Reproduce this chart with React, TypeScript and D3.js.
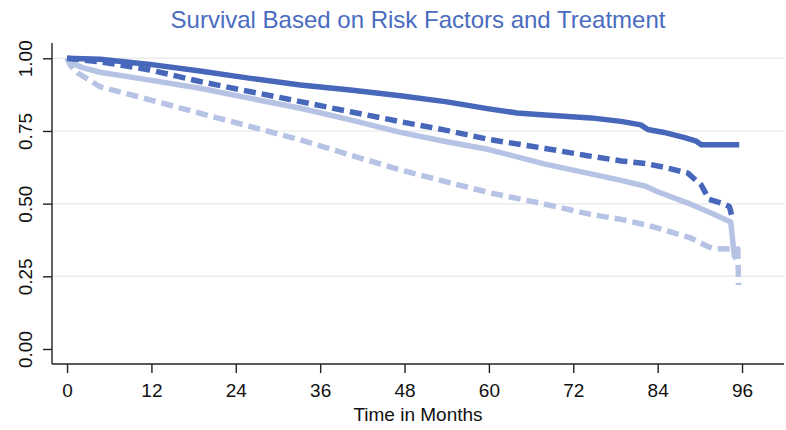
import React, { useRef, useEffect } from "react";
import * as d3 from "d3";

// Kaplan-Meier style survival curves, [month, survival]
const darkSolid: [number, number][] = [
  [0, 1.0], [4.7, 0.997], [11.8, 0.979], [18.9, 0.956], [26.1, 0.931], [33.2, 0.908],
  [40.3, 0.891], [47.4, 0.871], [53.8, 0.851], [60, 0.826], [64, 0.812], [68, 0.805],
  [74.5, 0.795], [78.8, 0.783], [81.6, 0.771], [82.6, 0.755], [84.9, 0.745], [87.7, 0.728],
  [89.5, 0.715], [90.2, 0.703], [95.6, 0.703],
];

const darkDashed: [number, number][] = [
  [0, 1.0], [4.7, 0.988], [11.8, 0.96], [18.9, 0.92], [26.1, 0.885], [33.2, 0.851],
  [40.3, 0.816], [47.4, 0.782], [53.8, 0.753], [60.2, 0.72], [68, 0.69], [74, 0.665],
  [78.8, 0.647], [82.3, 0.638], [85, 0.625], [88.3, 0.605], [90.2, 0.564], [91.3, 0.515],
  [93.5, 0.498], [94.2, 0.49], [94.7, 0.444],
];

const lightSolid: [number, number][] = [
  [0, 1.0], [0.5, 0.985], [2.2, 0.968], [4.7, 0.952], [11.8, 0.925], [18.9, 0.897],
  [26.1, 0.862], [33.2, 0.828], [40.3, 0.788], [47.4, 0.745], [54, 0.713], [60, 0.686],
  [68, 0.636], [74, 0.605], [78.8, 0.58], [82.3, 0.56], [84, 0.541], [88.3, 0.502],
  [91.6, 0.468], [94.4, 0.437], [94.9, 0.32], [95.2, 0.31],
];

const lightDashed: [number, number][] = [
  [0, 1.0], [0.5, 0.975], [1.5, 0.95], [2.5, 0.935], [4.7, 0.902], [11.8, 0.857],
  [18.9, 0.811], [26.1, 0.765], [33.2, 0.719], [40.3, 0.667], [47.4, 0.616], [53.8, 0.576],
  [60, 0.538], [68, 0.498], [74.5, 0.463], [79, 0.445], [82.3, 0.427], [84, 0.416],
  [88.7, 0.382], [91.2, 0.352], [92, 0.345], [95.4, 0.344], [95.5, 0.22],
];

const xTicks = [0, 12, 24, 36, 48, 60, 72, 84, 96];
const yTicks = [0, 0.25, 0.5, 0.75, 1];

const DARK = "#4767ba";
const LIGHT = "#b6c3e4";
const FONT = "'Liberation Sans', Arial, Helvetica, sans-serif";

const App = () => {
  const svgRef = useRef<SVGSVGElement>(null);

  useEffect(() => {
    const width = 786;
    const height = 430;
    const svg = d3.select(svgRef.current);
    svg.selectAll("*").remove();

    const plot = { left: 52, right: 784, top: 43, bottom: 364 };

    const x = d3.scaleLinear().domain([-2.14, 101.97]).range([plot.left, plot.right]);
    const y = d3.scaleLinear().domain([-0.0516, 1.0526]).range([plot.bottom, plot.top]);

    svg.attr("width", width).attr("height", height);

    svg.append("rect").attr("width", width).attr("height", height).attr("fill", "#fff");

    // Gridlines
    svg.append("g")
      .selectAll("line")
      .data(yTicks.filter(d => d > 0))
      .enter()
      .append("line")
      .attr("x1", plot.left)
      .attr("x2", plot.right)
      .attr("y1", d => y(d))
      .attr("y2", d => y(d))
      .attr("stroke", "#ececec")
      .attr("stroke-width", 1.5);

    // Curves
    const line = d3.line<[number, number]>()
      .x(d => x(d[0]))
      .y(d => y(d[1]))
      .curve(d3.curveLinear);

    const series = [
      { data: lightDashed, color: LIGHT, dash: "12,6" },
      { data: lightSolid, color: LIGHT, dash: null },
      { data: darkDashed, color: DARK, dash: "12,6" },
      { data: darkSolid, color: DARK, dash: null },
    ];

    series.forEach(s => {
      svg.append("path")
        .datum(s.data)
        .attr("d", line)
        .attr("fill", "none")
        .attr("stroke", s.color)
        .attr("stroke-width", 5.5)
        .attr("stroke-linejoin", "round")
        .attr("stroke-dasharray", s.dash);
    });

    // Y axis
    const yAxis = svg.append("g")
      .attr("transform", `translate(${plot.left},0)`)
      .call(d3.axisLeft(y).tickValues(yTicks).tickFormat(d3.format(".2f")).tickSize(9).tickPadding(0));
    yAxis.select(".domain").remove();
    yAxis.append("line")
      .attr("x1", 0).attr("x2", 0)
      .attr("y1", plot.top).attr("y2", plot.bottom)
      .attr("stroke", "#222").attr("stroke-width", 1.4);
    yAxis.selectAll(".tick line").attr("stroke", "#222").attr("stroke-width", 1.4);
    yAxis.selectAll(".tick text")
      .attr("x", null)
      .attr("dy", null)
      .attr("transform", "translate(-20,0) rotate(-90)")
      .attr("text-anchor", "middle")
      .attr("fill", "#111")
      .style("font-family", FONT)
      .style("font-size", "19px");

    // X axis
    const xAxis = svg.append("g")
      .attr("transform", `translate(0,${plot.bottom})`)
      .call(d3.axisBottom(x).tickValues(xTicks).tickSize(9).tickPadding(0));
    xAxis.select(".domain").remove();
    xAxis.append("line")
      .attr("x1", plot.left).attr("x2", plot.right)
      .attr("y1", 0).attr("y2", 0)
      .attr("stroke", "#222").attr("stroke-width", 1.4);
    xAxis.selectAll(".tick line").attr("stroke", "#222").attr("stroke-width", 1.4);
    xAxis.selectAll(".tick text")
      .attr("y", 33)
      .attr("dy", null)
      .attr("fill", "#111")
      .style("font-family", FONT)
      .style("font-size", "19px");

    // Axis title
    svg.append("text")
      .attr("x", 418)
      .attr("y", 421)
      .attr("text-anchor", "middle")
      .attr("fill", "#111")
      .style("font-family", FONT)
      .style("font-size", "19px")
      .text("Time in Months");

    // Title
    svg.append("text")
      .attr("x", 418)
      .attr("y", 28)
      .attr("text-anchor", "middle")
      .attr("fill", "#4a6cc0")
      .style("font-family", FONT)
      .style("font-size", "24px")
      .text("Survival Based on Risk Factors and Treatment");
  }, []);

  return (
    <div style={{ position: "absolute", left: 0, top: 0 }}>
      <svg ref={svgRef} style={{ display: "block" }}></svg>
    </div>
  );
};

export default App;
